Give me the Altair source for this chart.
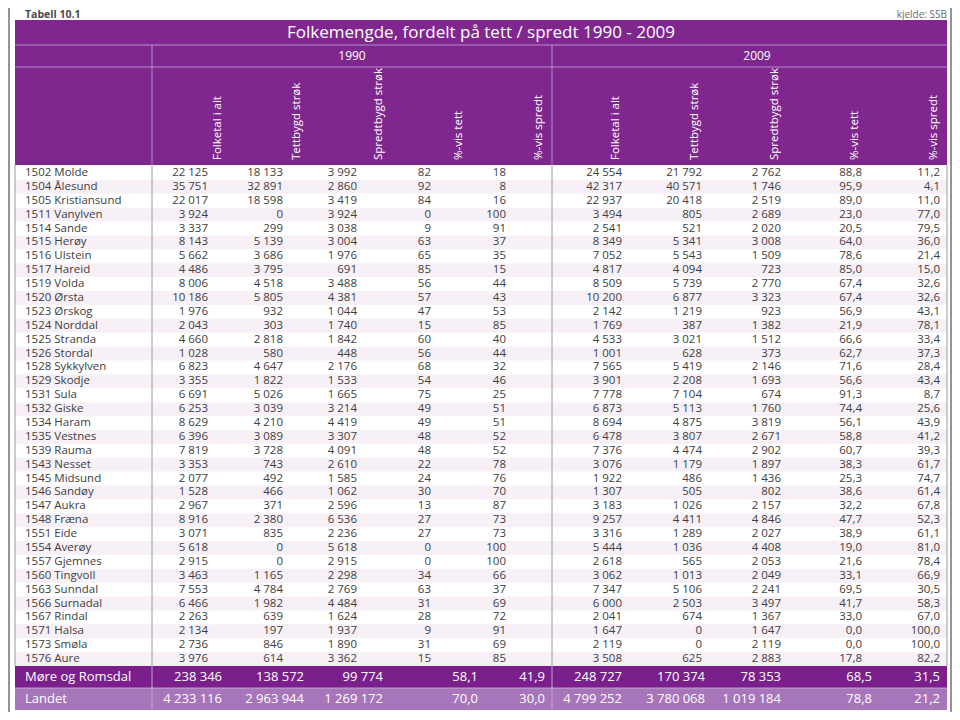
import altair as alt
import pandas as pd

# ---------------- data ----------------
title = "Folkemengde, fordelt på tett / spredt 1990 - 2009"
years = ["1990", "2009"]
col_headers = ["Folketal i alt", "Tettbygd strøk", "Spredtbygd strøk", "%-vis tett", "%-vis spredt"]

names = ["1502 Molde", "1504 Ålesund", "1505 Kristiansund", "1511 Vanylven", "1514 Sande",
         "1515 Herøy", "1516 Ulstein", "1517 Hareid", "1519 Volda", "1520 Ørsta",
         "1523 Ørskog", "1524 Norddal", "1525 Stranda", "1526 Stordal", "1528 Sykkylven",
         "1529 Skodje", "1531 Sula", "1532 Giske", "1534 Haram", "1535 Vestnes",
         "1539 Rauma", "1543 Nesset", "1545 Midsund", "1546 Sandøy", "1547 Aukra",
         "1548 Fræna", "1551 Eide", "1554 Averøy", "1557 Gjemnes", "1560 Tingvoll",
         "1563 Sunndal", "1566 Surnadal", "1567 Rindal", "1571 Halsa", "1573 Smøla",
         "1576 Aure"]

folk_1990 = [22125, 35751, 22017, 3924, 3337, 8143, 5662, 4486, 8006, 10186, 1976, 2043,
             4660, 1028, 6823, 3355, 6691, 6253, 8629, 6396, 7819, 3353, 2077, 1528, 2967,
             8916, 3071, 5618, 2915, 3463, 7553, 6466, 2263, 2134, 2736, 3976]
tett_1990 = [18133, 32891, 18598, 0, 299, 5139, 3686, 3795, 4518, 5805, 932, 303, 2818, 580,
             4647, 1822, 5026, 3039, 4210, 3089, 3728, 743, 492, 466, 371, 2380, 835, 0, 0,
             1165, 4784, 1982, 639, 197, 846, 614]
spredt_1990 = [3992, 2860, 3419, 3924, 3038, 3004, 1976, 691, 3488, 4381, 1044, 1740, 1842,
               448, 2176, 1533, 1665, 3214, 4419, 3307, 4091, 2610, 1585, 1062, 2596, 6536,
               2236, 5618, 2915, 2298, 2769, 4484, 1624, 1937, 1890, 3362]
pct_tett_1990 = [82, 92, 84, 0, 9, 63, 65, 85, 56, 57, 47, 15, 60, 56, 68, 54, 75, 49, 49, 48,
                 48, 22, 24, 30, 13, 27, 27, 0, 0, 34, 63, 31, 28, 9, 31, 15]
pct_spredt_1990 = [18, 8, 16, 100, 91, 37, 35, 15, 44, 43, 53, 85, 40, 44, 32, 46, 25, 51, 51,
                   52, 52, 78, 76, 70, 87, 73, 73, 100, 100, 66, 37, 69, 72, 91, 69, 85]

folk_2009 = [24554, 42317, 22937, 3494, 2541, 8349, 7052, 4817, 8509, 10200, 2142, 1769, 4533,
             1001, 7565, 3901, 7778, 6873, 8694, 6478, 7376, 3076, 1922, 1307, 3183, 9257,
             3316, 5444, 2618, 3062, 7347, 6000, 2041, 1647, 2119, 3508]
tett_2009 = [21792, 40571, 20418, 805, 521, 5341, 5543, 4094, 5739, 6877, 1219, 387, 3021, 628,
             5419, 2208, 7104, 5113, 4875, 3807, 4474, 1179, 486, 505, 1026, 4411, 1289, 1036,
             565, 1013, 5106, 2503, 674, 0, 0, 625]
spredt_2009 = [2762, 1746, 2519, 2689, 2020, 3008, 1509, 723, 2770, 3323, 923, 1382, 1512, 373,
               2146, 1693, 674, 1760, 3819, 2671, 2902, 1897, 1436, 802, 2157, 4846, 2027, 4408,
               2053, 2049, 2241, 3497, 1367, 1647, 2119, 2883]
pct_tett_2009 = [88.8, 95.9, 89.0, 23.0, 20.5, 64.0, 78.6, 85.0, 67.4, 67.4, 56.9, 21.9, 66.6,
                 62.7, 71.6, 56.6, 91.3, 74.4, 56.1, 58.8, 60.7, 38.3, 25.3, 38.6, 32.2, 47.7,
                 38.9, 19.0, 21.6, 33.1, 69.5, 41.7, 33.0, 0.0, 0.0, 17.8]
pct_spredt_2009 = [11.2, 4.1, 11.0, 77.0, 79.5, 36.0, 21.4, 15.0, 32.6, 32.6, 43.1, 78.1, 33.4,
                   37.3, 28.4, 43.4, 8.7, 25.6, 43.9, 41.2, 39.3, 61.7, 74.7, 61.4, 67.8, 52.3,
                   61.1, 81.0, 78.4, 66.9, 30.5, 58.3, 67.0, 100.0, 100.0, 82.2]

summary_names = ["Møre og Romsdal", "Landet"]
summary_mr = [238346, 138572, 99774, 58.1, 41.9, 248727, 170374, 78353, 68.5, 31.5]
summary_landet = [4233116, 2963944, 1269172, 70.0, 30.0, 4799252, 3780068, 1019184, 78.8, 21.2]

# ---------------- layout (image pixel coordinates) ----------------
FONT = "Open Sans"
PURPLE = "#80278f"
PURPLE_DARK = "#7a1f8b"
PURPLE_LIGHT = "#a675ba"
STRIPE = "#f7f0f7"
LINE_H = "#b58cc4"
GRID = "#9a9a9a"
TXT = "#404040"

LEFT, RIGHT = 15, 947
HEAD_TOP, HEAD_BOT = 20, 165
ROW_TOP, ROW_H = 166, 13.89
DATA_BOT = ROW_TOP + ROW_H * len(names)
SUM_H = 22
DIV1, DIV2 = 152, 552
NAME_X = 25
COL_X_DATA = [208, 283, 357, 431, 506, 622, 702, 781, 862, 940]
COL_X_SUM = [222, 304, 383, 478, 545, 622, 705, 781, 872, 940]
HEAD_X = [218, 297, 379, 459, 539, 616, 695, 775, 855, 934]
YEAR_X = [352, 757]
CELL_FS = 11.5

XS = alt.Scale(domain=[8, 952], nice=False, zero=False)
YS = alt.Scale(domain=[8, 712], nice=False, zero=False, reverse=True)


def fmt(v):
    if isinstance(v, float):
        return f"{v:.1f}".replace(".", ",")
    return f"{v:,}".replace(",", " ")


def xe(f="x"):
    return alt.X(f"{f}:Q", scale=XS, axis=None)


def ye(f="y"):
    return alt.Y(f"{f}:Q", scale=YS, axis=None)


# ---------- rectangles ----------
rects = [dict(x=LEFT, x2=RIGHT, y=HEAD_TOP, y2=HEAD_BOT, c=PURPLE)]
for i in range(len(names)):
    if i % 2 == 1:
        rects.append(dict(x=LEFT, x2=RIGHT, y=ROW_TOP + i * ROW_H, y2=ROW_TOP + (i + 1) * ROW_H, c=STRIPE))
rects.append(dict(x=LEFT, x2=RIGHT, y=DATA_BOT, y2=DATA_BOT + SUM_H, c=PURPLE_DARK))
rects.append(dict(x=LEFT, x2=RIGHT, y=DATA_BOT + SUM_H, y2=DATA_BOT + 2 * SUM_H, c=PURPLE_LIGHT))
rect_df = pd.DataFrame(rects)
rect_layer = alt.Chart(rect_df).mark_rect().encode(
    x=xe(), x2="x2:Q", y=ye(), y2="y2:Q", color=alt.Color("c:N", scale=None)
)

# ---------- rules ----------
rules = [
    dict(x=LEFT, x2=RIGHT, y=45, y2=45, c=LINE_H),
    dict(x=LEFT, x2=RIGHT, y=67, y2=67, c=LINE_H),
    dict(x=DIV1, x2=DIV1, y=45, y2=HEAD_BOT, c=LINE_H),
    dict(x=DIV2, x2=DIV2, y=45, y2=HEAD_BOT, c=LINE_H),
    dict(x=LEFT, x2=LEFT, y=HEAD_BOT, y2=DATA_BOT, c=GRID),
    dict(x=RIGHT, x2=RIGHT, y=HEAD_BOT, y2=DATA_BOT, c=GRID),
    dict(x=DIV1, x2=DIV1, y=HEAD_BOT, y2=DATA_BOT, c=GRID),
    dict(x=DIV2, x2=DIV2, y=HEAD_BOT, y2=DATA_BOT, c=GRID),
    dict(x=DIV1, x2=DIV1, y=DATA_BOT, y2=DATA_BOT + 2 * SUM_H, c="#c7a6d3"),
    dict(x=DIV2, x2=DIV2, y=DATA_BOT, y2=DATA_BOT + 2 * SUM_H, c="#c7a6d3"),
    dict(x=LEFT, x2=RIGHT, y=DATA_BOT + SUM_H, y2=DATA_BOT + SUM_H, c="#c7a6d3"),
    dict(x=9, x2=9, y=8, y2=712, c="#2a2a2a"),
    dict(x=951, x2=951, y=8, y2=712, c="#2a2a2a"),
]
rule_df = pd.DataFrame(rules)
rule_layer = alt.Chart(rule_df).mark_rule(strokeWidth=1).encode(
    x=xe(), x2="x2:Q", y=ye(), y2="y2:Q", color=alt.Color("c:N", scale=None)
)

# ---------- texts ----------
tabell = alt.Chart(pd.DataFrame([dict(x=NAME_X, y=14.5, t="Tabell 10.1")])).mark_text(
    align="left", baseline="middle", font=FONT, fontSize=10.5, fontWeight="bold", color="#4a4a4a"
).encode(x=xe(), y=ye(), text="t:N")

kjelde = alt.Chart(pd.DataFrame([dict(x=RIGHT, y=14.5, t="kjelde: SSB")])).mark_text(
    align="right", baseline="middle", font=FONT, fontSize=10, color="#6a6a6a"
).encode(x=xe(), y=ye(), text="t:N")

title_layer = alt.Chart(pd.DataFrame([dict(x=(LEFT + RIGHT) / 2, y=32.5, t=title)])).mark_text(
    align="center", baseline="middle", font=FONT, fontSize=17, color="white"
).encode(x=xe(), y=ye(), text="t:N")

year_layer = alt.Chart(pd.DataFrame([dict(x=YEAR_X[k], y=56, t=years[k]) for k in range(2)])).mark_text(
    align="center", baseline="middle", font=FONT, fontSize=12, color="white"
).encode(x=xe(), y=ye(), text="t:N")

head_rows = []
for k in range(10):
    head_rows.append(dict(x=HEAD_X[k], y=160, t=col_headers[k % 5]))
head_layer = alt.Chart(pd.DataFrame(head_rows)).mark_text(
    align="left", baseline="middle", angle=270, font=FONT, fontSize=11.5, color="white"
).encode(x=xe(), y=ye(), text="t:N")

row_y = [ROW_TOP + (i + 0.5) * ROW_H for i in range(len(names))]
name_layer = alt.Chart(pd.DataFrame(dict(x=[NAME_X] * len(names), y=row_y, t=names))).mark_text(
    align="left", baseline="middle", font=FONT, fontSize=CELL_FS, color=TXT
).encode(x=xe(), y=ye(), text="t:N")

cols = [folk_1990, tett_1990, spredt_1990, pct_tett_1990, pct_spredt_1990,
        folk_2009, tett_2009, spredt_2009, pct_tett_2009, pct_spredt_2009]
cells = []
for k, col in enumerate(cols):
    for i, v in enumerate(col):
        cells.append(dict(x=COL_X_DATA[k], y=row_y[i], t=fmt(v)))
value_layer = alt.Chart(pd.DataFrame(cells)).mark_text(
    align="right", baseline="middle", font=FONT, fontSize=CELL_FS, color=TXT
).encode(x=xe(), y=ye(), text="t:N")

sum_y = [DATA_BOT + SUM_H / 2, DATA_BOT + 1.5 * SUM_H]
sum_cells = [dict(x=NAME_X, y=sum_y[j], t=summary_names[j]) for j in range(2)]
sum_names_layer = alt.Chart(pd.DataFrame(sum_cells)).mark_text(
    align="left", baseline="middle", font=FONT, fontSize=13, color="white"
).encode(x=xe(), y=ye(), text="t:N")
sum_vals = []
for j, row in enumerate([summary_mr, summary_landet]):
    for k, v in enumerate(row):
        sum_vals.append(dict(x=COL_X_SUM[k], y=sum_y[j], t=fmt(v)))
sum_val_layer = alt.Chart(pd.DataFrame(sum_vals)).mark_text(
    align="right", baseline="middle", font=FONT, fontSize=13, color="white"
).encode(x=xe(), y=ye(), text="t:N")

chart = alt.layer(
    rect_layer, rule_layer, tabell, kjelde, title_layer, year_layer, head_layer,
    name_layer, value_layer, sum_names_layer, sum_val_layer
).properties(
    width=944, height=704, padding=0, autosize=alt.AutoSizeParams(type="none"),
    background="white"
).configure_view(stroke=None)

chart.save("out.html", embed_options={"renderer": "svg", "actions": False})
